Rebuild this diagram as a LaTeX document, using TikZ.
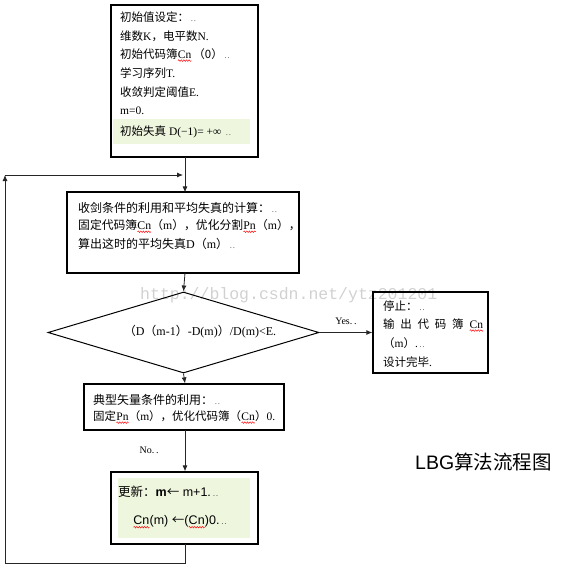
\documentclass[tikz,border=0pt]{standalone}
\usepackage{fontspec}
\setmainfont{Liberation Serif}
\newfontfamily\cjkfont{Noto Sans CJK SC}
\newfontfamily\arialfont{Liberation Sans}
\newfontfamily\monofont{Liberation Mono}
\newcommand\zh[1]{{\cjkfont #1}}
\newcommand\pmk{\,{\scriptsize.\,.}}
\usetikzlibrary{arrows.meta,shapes.geometric,decorations.pathmorphing}
\newcommand\rw[1]{\tikz[baseline=(rwn.base),x=1cm,y=1cm]{\node[inner sep=0pt,outer sep=0pt,anchor=center,draw=none,fill=none](rwn){#1};\draw[red,line width=0.45pt,decorate,decoration={snake,amplitude=0.8pt,segment length=2.6pt}] ([yshift=-2.4pt]rwn.base west) -- ([yshift=-2.4pt]rwn.base east);}}
\definecolor{hl}{RGB}{238,246,222}
\begin{document}
\begin{tikzpicture}[x=1pt,y=-1pt,
  box/.style={draw=black,line width=1.3pt,inner sep=0pt},
  flow/.style={draw=black!85,line width=0.8pt,-{Latex[length=6pt,width=5pt]}},
  plain/.style={draw=black!85,line width=0.8pt},
  txt/.style={anchor=west,inner sep=0pt,font=\fontsize{11.5}{13}\selectfont},
  lbl/.style={inner sep=0pt,font=\fontsize{10}{12}\selectfont}]
\useasboundingbox (0,0) rectangle (561,568);

% watermark
\node[anchor=base west,inner sep=0pt,text=black!18,font=\monofont\fontsize{16.5}{18}\selectfont] (wm) at (140,299) {http://blog.csdn.net/ytz201201};

% highlights
\fill[hl] (113,119) rectangle (250,144);
\fill[hl] (118,478) rectangle (250,538);

% boxes
\node[box,minimum width=147pt,minimum height=152pt] (init) at (184.5,81) {};
\node[box,minimum width=232pt,minimum height=81pt] (calc) at (183,232.5) {};
\node[box,diamond,minimum width=271pt,minimum height=81pt,line width=1pt] (dec) at (183.5,332.5) {};
\node[box,minimum width=115pt,minimum height=81pt] (stop) at (430.5,332.5) {};
\node[box,minimum width=200pt,minimum height=46pt] (opt) at (184,407) {};
\node[box,minimum width=147pt,minimum height=72pt] (upd) at (184.5,508) {};

% box 1 text
\node[txt] (a1) at (120,17) {\zh{初始值设定：}\pmk};
\node[txt] (a2) at (120,36) {\zh{维数}K\zh{，电平数}N.};
\node[txt] (a3) at (120,55) {\zh{初始代码簿}\rw{Cn}\,\zh{（0）}\pmk};
\node[txt] (a4) at (120,73) {\zh{学习序列}T.};
\node[txt] (a5) at (120,92) {\zh{收敛判定阈值}E.};
\node[txt] (a6) at (120,111) {m=0.};
\node[txt] (a7) at (120,132) {\zh{初始失真} D(−1)= +∞ \pmk};

% box 2 text
\node[txt,font=\fontsize{12}{13}\selectfont] (b1) at (78,208) {\zh{收剑条件的利用和平均失真的计算：}\pmk};
\node[txt,font=\fontsize{11.8}{13}\selectfont] (b2) at (78,226) {\zh{固定代码簿}\rw{Cn}\zh{（}m\zh{），优化分割}\rw{Pn}\zh{（}m\zh{），}};
\node[txt,font=\fontsize{12}{13}\selectfont] (b3) at (78,244) {\zh{算出这时的平均失真}D\zh{（}m\zh{）}\pmk};

% diamond text
\node[lbl,font=\fontsize{12}{13}\selectfont] (dtx) at (200,332) {\zh{（}D\zh{（}m-1\zh{）}-D(m)\zh{）}/D(m)\textless E.};

% stop text
\node[txt] (s1) at (383,306) {\zh{停止：}\pmk};
\node[txt] (s2) at (383,325) {\zh{输\,\,\,出\,\,\,代\,\,\,码\,\,\,簿}\,\,\,\rw{Cn}};
\node[txt] (s3) at (383,343) {\zh{（}m\zh{）}.\pmk};
\node[txt] (s4) at (383,362) {\zh{设计完毕}.};

% box 3 text
\node[txt,font=\fontsize{12}{13}\selectfont] (c1) at (93,400) {\zh{典型矢量条件的利用：}\pmk};
\node[txt,font=\fontsize{11.5}{13}\selectfont] (c2) at (93,417) {\zh{固定}\rw{Pn}\zh{（}m\zh{），优化代码簿（}\rw{Cn}\zh{）}0.};

% box 4 text
\node[txt,font=\fontsize{12.5}{14}\selectfont] (d1) at (118,492) {\zh{更新：}\arialfont\textbf{m}\zh{←} m+1.\pmk};
\node[txt,font=\arialfont\fontsize{12.5}{14}\selectfont] (d2) at (133,522) {\rw{Cn}(m) \zh{←}(\rw{Cn})0.\pmk};

% title
\node[anchor=west,inner sep=0pt,font=\fontsize{19.5}{22}\selectfont] (title) at (415,462) {\arialfont LBG\zh{算法流程图}};

% connectors
\coordinate (lj) at (185,175);
\coordinate (lt) at (5,175);
\coordinate (ll) at (5,563);
\draw[plain] (185,157) -- (lj);
\draw[flow] (lj) -- (185,192.4);
\draw[flow] (185,273) -- (dec.north);
\draw[flow] (dec.east) -- node[lbl,above=7pt,pos=0.5] (yes) {Yes.\,.} (stop.west);
\draw[flow] (dec.south) -- (185,383.4);
\draw[flow] (185,430) -- node[lbl,left=26pt,pos=0.5] (no) {No.\,.} (185,471.4);
\draw[flow] (185,544) |- (ll) -- (lt);
\draw[flow] (lt) -- (183,175);
\end{tikzpicture}
\end{document}
